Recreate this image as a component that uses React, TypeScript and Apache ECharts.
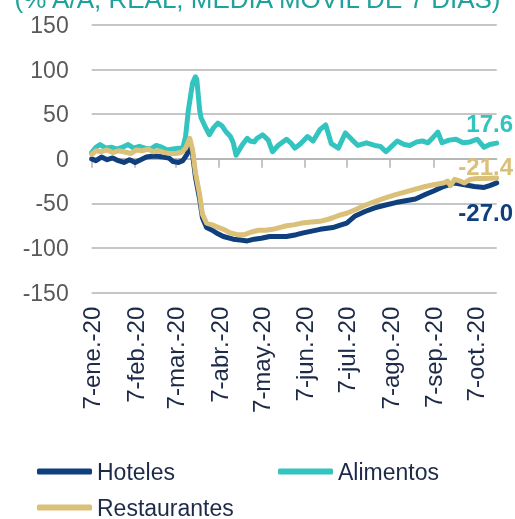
import React, { useEffect, useRef } from "react";
import * as echarts from "echarts";

const MONTHS = ["ene.", "feb.", "mar.", "abr.", "may.", "jun.", "jul.", "ago.", "sep.", "oct.", "nov.", "dic."];
const START = "2020-01-07";
const END = "2020-10-22";

const alimentos: [string, number][] = [
  ["2020-01-07", 7], ["2020-01-10", 13], ["2020-01-13", 16], ["2020-01-17", 12],
  ["2020-01-21", 13], ["2020-01-25", 11], ["2020-01-29", 13], ["2020-02-02", 16],
  ["2020-02-06", 12], ["2020-02-10", 14], ["2020-02-14", 12], ["2020-02-18", 11],
  ["2020-02-22", 15], ["2020-02-26", 13], ["2020-03-01", 10], ["2020-03-05", 11],
  ["2020-03-09", 12], ["2020-03-12", 12], ["2020-03-14", 25], ["2020-03-16", 55],
  ["2020-03-19", 85], ["2020-03-21", 92], ["2020-03-22", 89], ["2020-03-24", 55],
  ["2020-03-25", 46], ["2020-03-28", 36], ["2020-03-31", 27], ["2020-04-03", 35],
  ["2020-04-06", 40], ["2020-04-09", 37], ["2020-04-12", 30], ["2020-04-15", 25],
  ["2020-04-17", 18], ["2020-04-19", 4], ["2020-04-22", 12], ["2020-04-24", 17],
  ["2020-04-27", 23], ["2020-04-29", 20], ["2020-05-02", 19], ["2020-05-04", 23],
  ["2020-05-08", 27], ["2020-05-12", 21], ["2020-05-15", 8], ["2020-05-19", 15],
  ["2020-05-25", 22], ["2020-05-28", 18], ["2020-05-31", 12], ["2020-06-04", 17],
  ["2020-06-09", 25], ["2020-06-13", 20], ["2020-06-18", 33], ["2020-06-22", 38],
  ["2020-06-26", 17], ["2020-07-01", 12], ["2020-07-06", 29], ["2020-07-11", 21],
  ["2020-07-15", 15], ["2020-07-21", 18], ["2020-07-27", 15], ["2020-07-31", 14],
  ["2020-08-04", 8], ["2020-08-08", 14], ["2020-08-12", 20], ["2020-08-17", 16],
  ["2020-08-21", 15], ["2020-08-26", 19], ["2020-08-30", 20], ["2020-09-03", 18],
  ["2020-09-06", 23], ["2020-09-10", 30], ["2020-09-13", 18], ["2020-09-18", 21],
  ["2020-09-23", 22], ["2020-09-28", 18], ["2020-10-03", 19], ["2020-10-08", 22],
  ["2020-10-13", 13], ["2020-10-17", 16], ["2020-10-22", 17.6],
];

const restaurantes: [string, number][] = [
  ["2020-01-07", 5], ["2020-01-10", 9], ["2020-01-14", 8], ["2020-01-18", 10],
  ["2020-01-22", 7], ["2020-01-26", 9], ["2020-01-30", 8], ["2020-02-04", 6],
  ["2020-02-08", 10], ["2020-02-12", 9], ["2020-02-16", 11], ["2020-02-20", 8],
  ["2020-02-24", 9], ["2020-02-28", 7], ["2020-03-03", 6], ["2020-03-07", 6],
  ["2020-03-11", 7], ["2020-03-14", 12], ["2020-03-17", 23], ["2020-03-19", 10],
  ["2020-03-21", -15], ["2020-03-24", -40], ["2020-03-26", -62], ["2020-03-29", -72],
  ["2020-04-02", -74], ["2020-04-05", -76], ["2020-04-10", -79], ["2020-04-15", -83],
  ["2020-04-20", -85], ["2020-04-25", -85], ["2020-04-30", -82], ["2020-05-05", -80],
  ["2020-05-10", -80], ["2020-05-15", -79], ["2020-05-20", -77], ["2020-05-25", -75],
  ["2020-05-30", -74], ["2020-06-05", -72], ["2020-06-10", -71], ["2020-06-18", -70],
  ["2020-06-23", -68], ["2020-06-27", -66], ["2020-07-02", -63], ["2020-07-07", -61],
  ["2020-07-13", -57], ["2020-07-20", -52], ["2020-07-27", -48], ["2020-08-03", -44],
  ["2020-08-11", -40], ["2020-08-18", -37], ["2020-08-25", -34], ["2020-09-01", -31],
  ["2020-09-07", -29], ["2020-09-14", -27], ["2020-09-17", -25], ["2020-09-19", -30],
  ["2020-09-22", -23], ["2020-09-26", -25], ["2020-09-29", -27], ["2020-10-03", -23],
  ["2020-10-08", -22], ["2020-10-14", -22], ["2020-10-22", -21.4],
];

const hoteles: [string, number][] = [
  ["2020-01-07", 0], ["2020-01-10", -2], ["2020-01-14", 2], ["2020-01-18", -1],
  ["2020-01-22", 1], ["2020-01-26", -2], ["2020-01-30", -4], ["2020-02-03", -1],
  ["2020-02-07", -4], ["2020-02-11", -1], ["2020-02-15", 2], ["2020-02-19", 3],
  ["2020-02-23", 3], ["2020-02-27", 2], ["2020-03-02", 1], ["2020-03-05", -3],
  ["2020-03-09", -4], ["2020-03-12", -2], ["2020-03-15", 5], ["2020-03-17", 15],
  ["2020-03-19", 5], ["2020-03-21", -20], ["2020-03-24", -45], ["2020-03-26", -66],
  ["2020-03-29", -77], ["2020-04-02", -80], ["2020-04-05", -83], ["2020-04-10", -87],
  ["2020-04-17", -90], ["2020-04-22", -91], ["2020-04-27", -92], ["2020-05-02", -90],
  ["2020-05-07", -89], ["2020-05-13", -87], ["2020-05-20", -87], ["2020-05-25", -87],
  ["2020-06-01", -85], ["2020-06-06", -83], ["2020-06-12", -81], ["2020-06-18", -79],
  ["2020-06-27", -77], ["2020-07-03", -74], ["2020-07-07", -72], ["2020-07-13", -64],
  ["2020-07-20", -59], ["2020-07-27", -55], ["2020-08-03", -52], ["2020-08-11", -49],
  ["2020-08-18", -47], ["2020-08-25", -45], ["2020-09-01", -40], ["2020-09-07", -36],
  ["2020-09-14", -31], ["2020-09-22", -27], ["2020-09-29", -29], ["2020-10-06", -31],
  ["2020-10-13", -32], ["2020-10-17", -30], ["2020-10-22", -27.0],
];

const yTicks = { min: -150, max: 150, interval: 50 };

const C_HOT = "#0f3f7c";
const C_ALI = "#33c4c0";
const C_RES = "#dbc07a";
const C_TEXT = "#1d2a48";
const FONT = "Liberation Sans, Arial, sans-serif";

function buildCategories(): string[] {
  const out: string[] = [];
  const [ys, ms, ds] = START.split("-").map(Number);
  const [ye, me, de] = END.split("-").map(Number);
  let t = Date.UTC(ys, ms - 1, ds);
  const tEnd = Date.UTC(ye, me - 1, de);
  while (t <= tEnd) {
    const d = new Date(t);
    const s = `${d.getUTCFullYear()}-${String(d.getUTCMonth() + 1).padStart(2, "0")}-${String(d.getUTCDate()).padStart(2, "0")}`;
    out.push(s);
    t += 86400000;
  }
  return out;
}

function fmtDate(s: string): string {
  const [y, m, d] = s.split("-").map(Number);
  return `${d}-${MONTHS[m - 1]}-${String(y).slice(2)}`;
}

const isTickDay = (_i: number, v: string) => v.endsWith("-07");

export default function App() {
  const ref = useRef<HTMLDivElement>(null);
  useEffect(() => {
    if (!ref.current) return;
    const chart = echarts.init(ref.current, null, { renderer: "svg" });
    const cats = buildCategories();
    const last = (arr: [string, number][]) => arr[arr.length - 1];
    const endMark = (arr: [string, number][], color: string, offset: number[]) => ({
      symbol: "circle",
      symbolSize: 0,
      silent: true,
      data: [{ coord: [last(arr)[0], last(arr)[1]], value: last(arr)[1] }],
      label: {
        show: true,
        position: "inside",
        offset,
        formatter: (p: any) => Number(p.value).toFixed(1),
        color,
        fontSize: 24,
        fontWeight: "bold",
        fontFamily: FONT,
      },
    });
    const lineSeries = (name: string, data: [string, number][], color: string, offset: number[]) => ({
      name,
      type: "line",
      data,
      showSymbol: false,
      symbol: "none",
      lineStyle: { width: 5, color, cap: "round", join: "round" },
      itemStyle: { color },
      markPoint: endMark(data, color, offset),
    });
    const legendBase = {
      left: 37,
      itemWidth: 55,
      itemHeight: 6,
      itemGap: 103,
      icon: "roundRect",
      textStyle: { fontSize: 23, color: C_TEXT, fontFamily: FONT },
      padding: 0,
    };
    chart.setOption({
      animation: false,
      title: {
        text: "(% A/A, REAL, MEDIA MÓVIL DE 7 DÍAS)",
        left: "center",
        top: -14,
        padding: 0,
        textStyle: { color: "#1fa19c", fontSize: 26, fontWeight: "normal", fontFamily: FONT },
      },
      legend: [
        { ...legendBase, top: 460, data: ["Hoteles", "Alimentos"] },
        { ...legendBase, top: 496, data: ["Restaurantes"] },
      ],
      grid: { left: 91.7, right: 18.3, top: 25, bottom: 226.3, containLabel: false },
      xAxis: [
        {
          type: "category",
          data: cats,
          boundaryGap: false,
          axisLine: { show: true, onZero: true, lineStyle: { color: "#b3b3b3", width: 1.5 } },
          axisTick: { show: true, interval: isTickDay, length: 9, lineStyle: { color: "#b3b3b3", width: 1.5 } },
          axisLabel: { show: false },
          splitLine: { show: false },
        },
        {
          type: "category",
          data: cats,
          boundaryGap: false,
          position: "bottom",
          axisLine: { show: false, onZero: false },
          axisTick: { show: false },
          axisLabel: {
            show: true,
            interval: isTickDay,
            rotate: 90,
            margin: 14,
            formatter: (v: string) => fmtDate(v),
            color: C_TEXT,
            fontSize: 24,
            fontFamily: FONT,
          },
          splitLine: { show: false },
        },
      ],
      yAxis: {
        type: "value",
        min: yTicks.min,
        max: yTicks.max,
        interval: yTicks.interval,
        axisLine: { show: false },
        axisTick: { show: false },
        axisLabel: { margin: 23, color: "#595959", fontSize: 23, fontFamily: FONT },
        splitLine: { lineStyle: { color: "#b3b3b3", width: 1.5 } },
      },
      series: [
        lineSeries("Alimentos", alimentos, C_ALI, [-7, -20]),
        lineSeries("Hoteles", hoteles, C_HOT, [-11, 30]),
        lineSeries("Restaurantes", restaurantes, C_RES, [-11, -11]),
      ],
    });
    return () => chart.dispose();
  }, []);
  return <div ref={ref} style={{ position: "fixed", left: 0, top: 0, width: 515, height: 519 }} />;
}
